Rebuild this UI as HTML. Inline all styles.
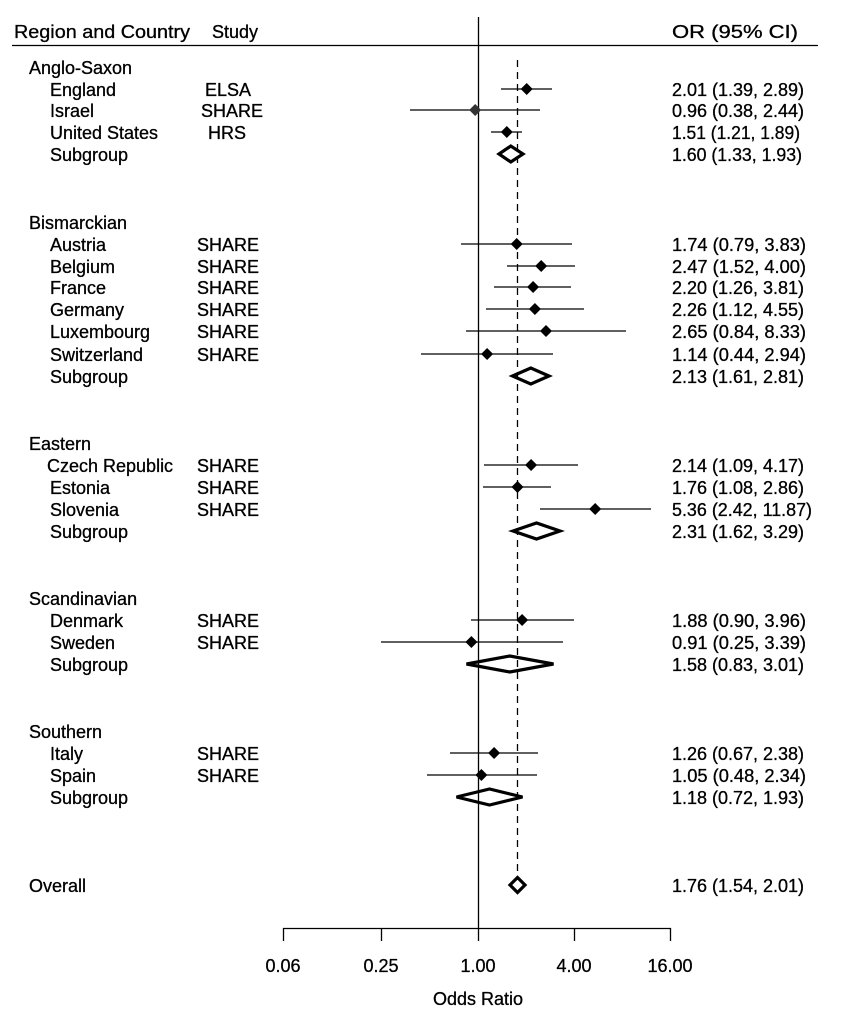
<!DOCTYPE html>
<html><head><meta charset="utf-8"><style>
html,body{margin:0;padding:0;background:#fff}
svg{display:block}
text{font-family:"Liberation Sans",sans-serif;font-size:18px;fill:#000;stroke:#000;stroke-width:0.3}
</style></head><body>
<svg width="865" height="1024" viewBox="0 0 865 1024" xmlns="http://www.w3.org/2000/svg">
<text x="14" y="38" textLength="176" lengthAdjust="spacingAndGlyphs">Region and Country</text>
<text x="212" y="38">Study</text>
<text x="672" y="38" textLength="126" lengthAdjust="spacingAndGlyphs">OR (95% CI)</text>
<line x1="12" y1="45.5" x2="818" y2="45.5" stroke="#000" stroke-width="1.3"/>
<line x1="478.5" y1="17" x2="478.5" y2="928" stroke="#000" stroke-width="1.3"/>
<line x1="517.5" y1="60" x2="517.5" y2="880" stroke="#000" stroke-width="1.3" stroke-dasharray="7,5"/>

<g>
<text x="29" y="74">Anglo-Saxon</text>
<text x="50" y="96">England</text><text x="228" y="96" text-anchor="middle">ELSA</text><text x="672" y="96" textLength="132" lengthAdjust="spacingAndGlyphs">2.01 (1.39, 2.89)</text>
<text x="50" y="117">Israel</text><text x="232" y="117" text-anchor="middle">SHARE</text><text x="672" y="117" textLength="132" lengthAdjust="spacingAndGlyphs">0.96 (0.38, 2.44)</text>
<text x="50" y="139">United States</text><text x="227" y="139" text-anchor="middle">HRS</text><text x="672" y="139" textLength="128" lengthAdjust="spacingAndGlyphs">1.51 (1.21, 1.89)</text>
<text x="50" y="161">Subgroup</text><text x="672" y="161" textLength="130" lengthAdjust="spacingAndGlyphs">1.60 (1.33, 1.93)</text>

<text x="29" y="229">Bismarckian</text>
<text x="50" y="251">Austria</text><text x="197" y="251">SHARE</text><text x="672" y="251" textLength="134" lengthAdjust="spacingAndGlyphs">1.74 (0.79, 3.83)</text>
<text x="50" y="273">Belgium</text><text x="197" y="273">SHARE</text><text x="672" y="273" textLength="134" lengthAdjust="spacingAndGlyphs">2.47 (1.52, 4.00)</text>
<text x="50" y="294">France</text><text x="197" y="294">SHARE</text><text x="672" y="294" textLength="132" lengthAdjust="spacingAndGlyphs">2.20 (1.26, 3.81)</text>
<text x="50" y="316">Germany</text><text x="197" y="316">SHARE</text><text x="672" y="316" textLength="132" lengthAdjust="spacingAndGlyphs">2.26 (1.12, 4.55)</text>
<text x="50" y="338">Luxembourg</text><text x="197" y="338">SHARE</text><text x="672" y="338" textLength="134" lengthAdjust="spacingAndGlyphs">2.65 (0.84, 8.33)</text>
<text x="50" y="361">Switzerland</text><text x="197" y="361">SHARE</text><text x="672" y="361" textLength="134" lengthAdjust="spacingAndGlyphs">1.14 (0.44, 2.94)</text>
<text x="50" y="383">Subgroup</text><text x="672" y="383" textLength="132" lengthAdjust="spacingAndGlyphs">2.13 (1.61, 2.81)</text>

<text x="29" y="450">Eastern</text>
<text x="47" y="472">Czech Republic</text><text x="197" y="472">SHARE</text><text x="672" y="472" textLength="132" lengthAdjust="spacingAndGlyphs">2.14 (1.09, 4.17)</text>
<text x="50" y="494">Estonia</text><text x="197" y="494">SHARE</text><text x="672" y="494" textLength="132" lengthAdjust="spacingAndGlyphs">1.76 (1.08, 2.86)</text>
<text x="50" y="516">Slovenia</text><text x="197" y="516">SHARE</text><text x="672" y="516" textLength="140" lengthAdjust="spacingAndGlyphs">5.36 (2.42, 11.87)</text>
<text x="50" y="538">Subgroup</text><text x="672" y="538" textLength="132" lengthAdjust="spacingAndGlyphs">2.31 (1.62, 3.29)</text>

<text x="29" y="605">Scandinavian</text>
<text x="50" y="627">Denmark</text><text x="197" y="627">SHARE</text><text x="672" y="627" textLength="134" lengthAdjust="spacingAndGlyphs">1.88 (0.90, 3.96)</text>
<text x="50" y="649">Sweden</text><text x="197" y="649">SHARE</text><text x="672" y="649" textLength="134" lengthAdjust="spacingAndGlyphs">0.91 (0.25, 3.39)</text>
<text x="50" y="671">Subgroup</text><text x="672" y="671" textLength="132" lengthAdjust="spacingAndGlyphs">1.58 (0.83, 3.01)</text>

<text x="29" y="738">Southern</text>
<text x="50" y="760">Italy</text><text x="197" y="760">SHARE</text><text x="672" y="760" textLength="132" lengthAdjust="spacingAndGlyphs">1.26 (0.67, 2.38)</text>
<text x="50" y="782">Spain</text><text x="197" y="782">SHARE</text><text x="672" y="782" textLength="134" lengthAdjust="spacingAndGlyphs">1.05 (0.48, 2.34)</text>
<text x="50" y="804">Subgroup</text><text x="672" y="804" textLength="132" lengthAdjust="spacingAndGlyphs">1.18 (0.72, 1.93)</text>

<text x="29" y="892">Overall</text><text x="672" y="892" textLength="132" lengthAdjust="spacingAndGlyphs">1.76 (1.54, 2.01)</text>
</g>

<g stroke="#000" stroke-width="1.3">
<line x1="501" y1="89" x2="552" y2="89"/>
<line x1="410" y1="110" x2="540" y2="110"/>
<line x1="491" y1="132" x2="522" y2="132"/>
<line x1="461" y1="244" x2="572" y2="244"/>
<line x1="507" y1="266" x2="575" y2="266"/>
<line x1="494" y1="287" x2="571" y2="287"/>
<line x1="486" y1="309" x2="584" y2="309"/>
<line x1="466" y1="331" x2="626" y2="331"/>
<line x1="421" y1="354" x2="553" y2="354"/>
<line x1="484" y1="465" x2="578" y2="465"/>
<line x1="483" y1="487" x2="551" y2="487"/>
<line x1="540" y1="509" x2="651" y2="509"/>
<line x1="471" y1="620" x2="574" y2="620"/>
<line x1="381" y1="642" x2="563" y2="642"/>
<line x1="450" y1="753" x2="538" y2="753"/>
<line x1="427" y1="775" x2="537" y2="775"/>
</g>
<g fill="#000">
<polygon points="526.7,83 532.7,89 526.7,95 520.7,89"/>
<polygon points="475.2,104 481.2,110 475.2,116 469.2,110" fill="#333"/>
<polygon points="506.8,126 512.8,132 506.8,138 500.8,132"/>
<polygon points="516.7,238 522.7,244 516.7,250 510.7,244"/>
<polygon points="541.2,260 547.2,266 541.2,272 535.2,266"/>
<polygon points="533.1,281 539.1,287 533.1,293 527.1,287"/>
<polygon points="534.9,303 540.9,309 534.9,315 528.9,309"/>
<polygon points="546,325 552,331 546,337 540,331"/>
<polygon points="487.1,348 493.1,354 487.1,360 481.1,354"/>
<polygon points="531.1,459 537.1,465 531.1,471 525.1,465"/>
<polygon points="517.5,481 523.5,487 517.5,493 511.5,487"/>
<polygon points="595.2,503 601.2,509 595.2,515 589.2,509"/>
<polygon points="522.1,614 528.1,620 522.1,626 516.1,620"/>
<polygon points="471.4,636 477.4,642 471.4,648 465.4,642"/>
<polygon points="494.1,747 500.1,753 494.1,759 488.1,753"/>
<polygon points="481.4,769 487.4,775 481.4,781 475.4,775"/>
</g>
<g fill="none" stroke="#000" stroke-width="3.2" stroke-linejoin="miter">
<polygon points="499,154 510.8,146 523,154 510.8,162"/>
<polygon points="512.5,376 530.8,368 549,376 530.8,384"/>
<polygon points="513,531 536.5,523 560,531 536.5,539"/>
<polygon points="466.5,664 509.9,656 553.5,664 509.9,672"/>
<polygon points="456.5,797 489.5,789 522.5,797 489.5,805"/>
<polygon points="510,885 517.5,877.5 525,885 517.5,892.5"/>
</g>

<g stroke="#000" stroke-width="1.3">
<line x1="283" y1="928.5" x2="671" y2="928.5"/>
<line x1="283.5" y1="928" x2="283.5" y2="941"/>
<line x1="381.5" y1="928" x2="381.5" y2="941"/>
<line x1="478.5" y1="928" x2="478.5" y2="941"/>
<line x1="574.5" y1="928" x2="574.5" y2="941"/>
<line x1="670.5" y1="928" x2="670.5" y2="941"/>
</g>
<text x="283" y="972" text-anchor="middle">0.06</text>
<text x="381" y="972" text-anchor="middle">0.25</text>
<text x="478" y="972" text-anchor="middle">1.00</text>
<text x="574" y="972" text-anchor="middle">4.00</text>
<text x="670" y="972" text-anchor="middle">16.00</text>
<text x="478" y="1005" text-anchor="middle">Odds Ratio</text>
</svg>
</body></html>
